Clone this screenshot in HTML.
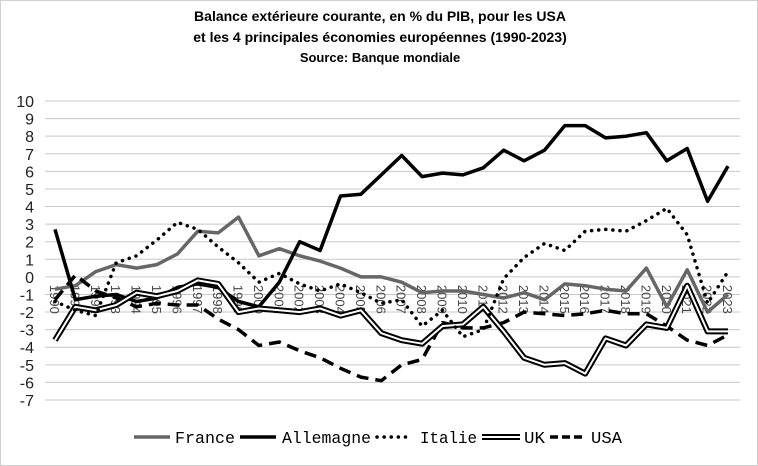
<!DOCTYPE html>
<html><head><meta charset="utf-8"><style>
body{margin:0;background:#fff}
svg{display:block}
</style></head><body>
<svg id="chart" width="758" height="466" xmlns="http://www.w3.org/2000/svg">
<rect x="0.5" y="0.5" width="757" height="465" fill="#fff" stroke="#d0d0d0"/>
<g font-family="Liberation Sans, sans-serif" font-weight="bold" font-size="14" text-anchor="middle" fill="#000">
<text x="380" y="21">Balance extérieure courante, en % du PIB, pour les USA</text>
<text x="380" y="42">et les 4 principales économies européennes (1990-2023)</text>
<text x="380" y="62" font-size="13">Source: Banque mondiale</text>
</g>
<g id="grid"></g>
<g id="ylabels"></g>
<g id="xlabels"></g>
<g id="series"></g>
<g id="legend"></g>
</svg>
<script>
const years=[];for(let y=1990;y<=2023;y++)years.push(y);
const yTicks=[10,9,8,7,6,5,4,3,2,1,0,-1,-2,-3,-4,-5,-6,-7];
const france=[-0.7,-0.5,0.3,0.7,0.5,0.7,1.3,2.6,2.5,3.4,1.2,1.6,1.2,0.9,0.5,0.0,0.0,-0.3,-0.9,-0.8,-0.8,-1.0,-1.2,-0.9,-1.3,-0.4,-0.5,-0.7,-0.8,0.5,-1.7,0.4,-2.0,-1.0];
const allemagne=[2.7,-1.3,-1.1,-1.0,-1.4,-1.2,-0.6,-0.4,-0.6,-1.4,-1.7,-0.3,2.0,1.5,4.6,4.7,5.8,6.9,5.7,5.9,5.8,6.2,7.2,6.6,7.2,8.6,8.6,7.9,8.0,8.2,6.6,7.3,4.3,6.3];
const italie=[-1.4,-1.9,-2.2,0.8,1.2,2.1,3.1,2.7,1.7,0.8,-0.3,0.2,-0.4,-0.8,-0.4,-0.9,-1.5,-1.3,-2.8,-1.9,-3.4,-3.0,-0.1,1.1,1.9,1.5,2.6,2.7,2.6,3.2,3.9,2.4,-1.5,0.3];
const uk=[-3.6,-1.7,-1.9,-1.6,-0.9,-1.1,-0.8,-0.2,-0.4,-2.0,-1.8,-1.9,-2.0,-1.8,-2.2,-1.9,-3.2,-3.6,-3.8,-2.8,-2.7,-1.7,-3.1,-4.6,-5.0,-4.9,-5.5,-3.5,-3.9,-2.7,-2.9,-0.5,-3.1,-3.1];
const usa=[-1.3,0.1,-0.8,-1.2,-1.7,-1.5,-1.6,-1.6,-2.4,-3.0,-3.9,-3.7,-4.2,-4.6,-5.2,-5.7,-5.9,-5.0,-4.7,-2.6,-2.9,-2.9,-2.6,-2.0,-2.1,-2.2,-2.1,-1.9,-2.1,-2.1,-2.8,-3.6,-3.9,-3.3];

const NS="http://www.w3.org/2000/svg";
const X0=55,X1=728,YTOP=101,YBOT=400,VMAX=10,VMIN=-7,GL=45,GR=740;
function xs(i){return X0+(X1-X0)*i/(years.length-1);}
function ys(v){return YTOP+(VMAX-v)*(YBOT-YTOP)/(VMAX-VMIN);}
function mk(tag,attrs,parent){const e=document.createElementNS(NS,tag);for(const k in attrs)e.setAttribute(k,attrs[k]);parent.appendChild(e);return e;}
const grid=document.getElementById('grid'),yl=document.getElementById('ylabels'),xl=document.getElementById('xlabels'),ser=document.getElementById('series'),leg=document.getElementById('legend');
yTicks.forEach(t=>{
 const l=mk('line',{x1:GL,x2:GR,y1:ys(t),y2:ys(t),stroke:'#c8c8c8','stroke-width':1},grid);
 
 
 const tx=mk('text',{x:34,y:ys(t)+6,'text-anchor':'end','font-family':'Liberation Sans, sans-serif','font-size':16,fill:'#222'},yl);
 tx.textContent=t;
 
 
});
years.forEach((y,i)=>{
 const tx=mk('text',{x:0,y:0,transform:`translate(${xs(i)-5},${ys(0)+8}) rotate(90)`,'font-family':'Liberation Sans, sans-serif','font-size':13,fill:'#444'},xl);
 tx.textContent=y;
 
 
});
function pts(arr){return arr.map((v,i)=>xs(i).toFixed(1)+','+ys(v).toFixed(1)).join(' ');}
function line(arr,attrs,name){
 const p=mk('polyline',Object.assign({points:pts(arr),fill:'none','stroke-linejoin':'round'},attrs),ser);
 
 
}
line(france,{stroke:'#666','stroke-width':3.5},'series-france');
line(allemagne,{stroke:'#000','stroke-width':3.5},'series-allemagne');
line(usa,{stroke:'#000','stroke-width':3.5,'stroke-dasharray':'12,7'},'series-usa');
line(uk,{stroke:'#000','stroke-width':6},'series-uk-outer');
line(uk,{stroke:'#fff','stroke-width':2},'series-uk');
line(italie,{stroke:'#000','stroke-width':3.5,'stroke-dasharray':'0.1,7','stroke-linecap':'round'},'series-italie');

const legNames=['France','Allemagne','Italie','UK','USA'];
const legLx=[134,240,377,482,550],legLw=[36,36,34,38,35],legTx=[175,282,420,524,591],legTw=[60,89,57,21,31];
const ly=437;
function legLine(i,attrs){const e=mk('line',Object.assign({x1:legLx[i],x2:legLx[i]+legLw[i],y1:ly,y2:ly},attrs),leg);return e;}
legLine(0,{stroke:'#666','stroke-width':3.5});
legLine(1,{stroke:'#000','stroke-width':3.5});
legLine(2,{stroke:'#000','stroke-width':3.5,'stroke-dasharray':'0.1,7','stroke-linecap':'round'});
legLine(3,{stroke:'#000','stroke-width':6});
legLine(3,{stroke:'#fff','stroke-width':2});
legLine(4,{stroke:'#000','stroke-width':3.5,'stroke-dasharray':'8,4'});
legNames.forEach((n,i)=>{
 const t=mk('text',{x:legTx[i],y:ly+6,'font-family':'Liberation Mono, monospace','font-size':17,fill:'#000',textLength:legTw[i],lengthAdjust:'spacingAndGlyphs'},leg);
 t.textContent=n;
 
 
});
</script>
</body></html>
